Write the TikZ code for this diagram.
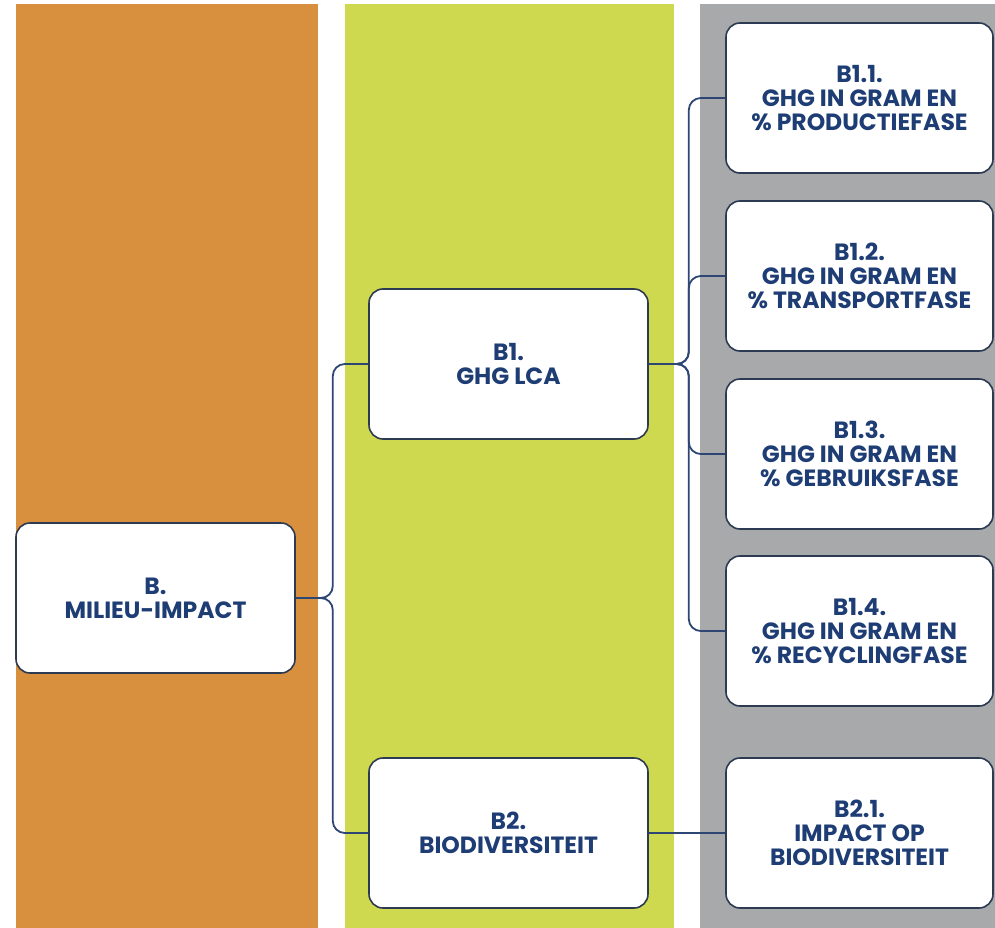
\documentclass[tikz,border=0pt]{standalone}
\usepackage{fontspec}
\setmainfont{Poppins}
\usetikzlibrary{positioning}
\definecolor{milieu}{HTML}{D8903E}
\definecolor{lcagreen}{HTML}{CFD94F}
\definecolor{subgray}{HTML}{A8A9AB}
\definecolor{textblue}{HTML}{1E3D74}
\definecolor{boxline}{HTML}{2C3A52}
\definecolor{linkblue}{HTML}{2E4673}

\begin{document}
\begin{tikzpicture}[x=1pt,y=-1pt,
        every node/.style={font=\fontsize{23.5}{24}\selectfont\bfseries, text=textblue},
        box/.style={draw=boxline, line width=1.6pt, fill=white, rounded corners=14pt,
                    align=center, minimum height=150pt, inner sep=0pt},
        mainbox/.style={box, minimum width=279pt},
        subbox/.style={box, minimum width=267pt},
        link/.style={draw=linkblue, line width=1.8pt, rounded corners=12pt}]
                \useasboundingbox (0,0) rectangle (995,928);
                \fill [white] (0,0) rectangle (995,928);
                % columns
                \fill [milieu] (16,4) rectangle (318,928);
                \fill [lcagreen] (345,4) rectangle (674,928);
                \fill [subgray] (700,4) rectangle (995,928);
                % boxes
                \node [mainbox] (B) at (155.5,598) {B.\\MILIEU-IMPACT};
                \node [mainbox] (B1) at (508.5,364) {B1.\\GHG LCA};
                \node [mainbox] (B2) at (508.5,833) {B2.\\BIODIVERSITEIT};
                \node [subbox] (B11) at (859.5,98) {B1.1.\\GHG IN GRAM EN\\\% PRODUCTIEFASE};
                \node [subbox] (B12) at (859.5,276) {B1.2.\\GHG IN GRAM EN\\\% TRANSPORTFASE};
                \node [subbox] (B13) at (859.5,454) {B1.3.\\GHG IN GRAM EN\\\% GEBRUIKSFASE};
                \node [subbox] (B14) at (859.5,631) {B1.4.\\GHG IN GRAM EN\\\% RECYCLINGFASE};
                \node [subbox] (B21) at (859.5,833) {B2.1.\\IMPACT OP\\BIODIVERSITEIT};
                % connectors
                \coordinate (jB) at ([xshift=37pt]B.east);
                \coordinate (jB1) at ([xshift=40pt]B1.east);
                \draw [link] (B1.west) -| (jB) -- (B.east);
                \draw [link] (B2.west) -| (jB) -- (B.east);
                \foreach \sub in {B11,B12,B13,B14}
                    \draw [link] (\sub.west) -| (jB1) -- (B1.east);
                \draw [link] (B2.east) -- (B21.west);
            \end{tikzpicture}
\end{document}
